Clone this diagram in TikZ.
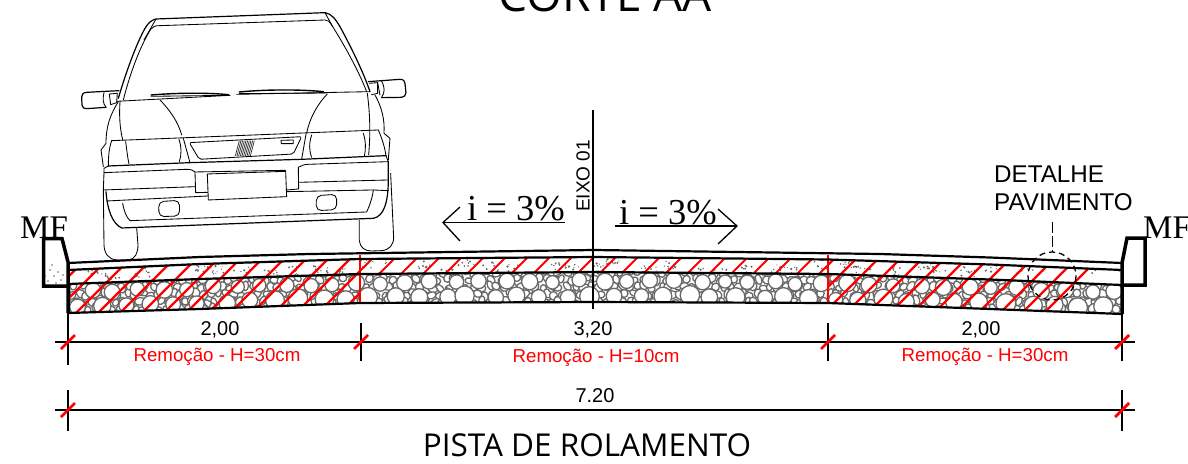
\documentclass[tikz,border=0pt]{standalone}
\usepackage{fontspec}
\setmainfont{Liberation Sans}
\newfontfamily\serifmf{Liberation Serif}
\newfontfamily\opensans{Open Sans}
\usetikzlibrary{calc}
\definecolor{stonegray}{RGB}{105,105,105}
\definecolor{rmred}{RGB}{255,0,0}
\tikzset{
  carline/.style={line width=0.85pt,line join=round,line cap=round},
  carthick/.style={line width=1.2pt,line join=round,line cap=round},
  layerline/.style={line width=2.2pt},
  curbline/.style={line width=3.5pt,line join=miter},
  hatchline/.style={rmred,line width=2.3pt},
  stone/.style={stonegray,line width=1.3pt,fill=white},
  dimline/.style={line width=1.2pt},
  redtick/.style={rmred,line width=2.8pt},
  thicktick/.style={line width=2.2pt},
  dimtext/.style={font=\fontsize{20}{21}\selectfont,inner sep=0pt},
  redtext/.style={font=\fontsize{18.7}{19}\selectfont,text=rmred,inner sep=0pt},
  bigserif/.style={font=\serifmf\fontsize{33}{34}\selectfont,inner sep=0pt},
  slopetext/.style={font=\serifmf\fontsize{36.5}{36}\selectfont,inner sep=0pt},
  opentitle/.style={font=\opensans\fontsize{31.5}{32}\selectfont,inner sep=0pt},
}
\def\roadtop{(68,263)--(200,257)--(310,254)--(594,250)--(880,254)--(990,257.5)--(1122,263)}
\def\roadsecond{(68,270)--(200,264)--(360,259)--(594,257)--(828,259.5)--(990,264.5)--(1122,270)}
\def\roadthird{(68,284)--(200,279)--(360,274)--(594,272)--(828,274)--(990,279.5)--(1122,285)}
\def\roadbottom{(68,313)--(200,309)--(360,303)--(594,302)--(828,303)--(990,309)--(1122,314)}
\begin{document}
\begin{tikzpicture}[x=1pt,y=-1pt]
\useasboundingbox (0,0) rectangle (1188,463);
\pgfmathsetseed{4242}
% ---------- stones
\begin{scope}
\clip (68,284)--(200,279)--(360,274)--(594,272)--(828,274)--(990,279.5)--(1122,285)--(1122,314)--(990,309)--(828,303)--(594,302)--(360,303)--(200,309)--(68,313)--cycle;
\foreach \r in {0,1,2,3,4,5}{
  \foreach \c in {0,...,140}{
    \pgfmathsetmacro{\px}{60+\c*7.8+mod(\r,2)*3.9+rand*2}
    \pgfmathsetmacro{\py}{272+\r*7.5+rand*2}
    \pgfmathsetmacro{\ra}{3.6+rnd*1.8}
    \pgfmathsetmacro{\rb}{2.8+rnd*1.4}
    \pgfmathsetmacro{\an}{rnd*180}
    \draw[stone,rotate around={\an:(\px,\py)}] (\px,\py) ellipse ({\ra} and {\rb});
  }
}
% two rows of larger stones following the camber
\foreach \c in {0,...,43}{
  \pgfmathsetmacro{\px}{66+\c*24.4+rand*3}
  \pgfmathsetmacro{\py}{272+((\px-594)/528)*((\px-594)/528)*12+9+rand*1.5}
  \pgfmathsetmacro{\ra}{6.5+rnd*2}
  \draw[stone] (\px,\py) circle ({\ra});
}
\foreach \c in {0,...,43}{
  \pgfmathsetmacro{\px}{78+\c*24.4+rand*4}
  \pgfmathsetmacro{\py}{272+((\px-594)/528)*((\px-594)/528)*12+24+rand*1.5}
  \pgfmathsetmacro{\ra}{7+rnd*3}
  \draw[stone] (\px,\py) circle ({\ra});
}
\end{scope}
% ---------- concrete specks
\begin{scope}
\clip (68,270)--(200,264)--(360,259)--(594,257)--(828,259.5)--(990,264.5)--(1122,270)--(1122,285)--(990,279.5)--(828,274)--(594,272)--(360,274)--(200,279)--(68,284)--cycle;
\foreach \c in {0,...,42}{
  \pgfmathsetmacro{\cx}{70+\c*25+rand*8}
  \pgfmathsetmacro{\cy}{268+rand*7}
  \foreach \k in {1,...,10}{
    \pgfmathsetmacro{\dx}{\cx+rand*8}
    \pgfmathsetmacro{\dy}{\cy+rand*5}
    \pgfmathsetmacro{\dr}{0.55+rnd*0.7}
    \fill[stonegray] (\dx,\dy) circle ({\dr});
  }
}
\end{scope}
% ---------- curb specks
\foreach \dx/\dy in {50/270,54/276,58/272,61/280,48/281,56/283,63/275,45/276,52/265}{
  \fill[stonegray] (\dx,\dy) circle (0.8);
}
% ---------- red hatching
\begin{scope}
\clip (68,270)--(200,264)--(360,259)--(360,303)--(200,309)--(68,313)--cycle;
\foreach \k in {-8,...,22}{
  \draw[hatchline] ({389+22*\k-330},330)--({389+22*\k-230},230);
}
\end{scope}
\begin{scope}
\clip (828,259.5)--(990,264.5)--(1122,270)--(1122,314)--(990,309)--(828,303)--cycle;
\foreach \k in {20,...,44}{
  \draw[hatchline] ({389+22*\k-330},330)--({389+22*\k-230},230);
}
\end{scope}
\begin{scope}
\clip (360,259)--(594,257)--(828,259.5)--(828,274)--(594,272)--(360,274)--cycle;
\foreach \k in {5,...,32}{
  \draw[hatchline,line width=1.9pt] ({389+22*\k-330},330)--({389+22*\k-230},230);
}
\end{scope}
\draw[hatchline] (360,255)--(360,304);
\draw[hatchline] (828,255)--(828,304);
% ---------- road lines
\draw[layerline] \roadtop;
\draw[layerline] \roadsecond;
\draw[layerline] \roadthird;
\draw[layerline] \roadbottom;
% ---------- curbs
\draw[curbline] (68,313)--(68,262)--(62,238.5)--(43.5,238.5)--(43.5,286)--(68,286);
\draw[curbline] (1122,314)--(1122,263)--(1127,238)--(1145,238)--(1145,285)--(1122,285);
% ---------- axis
\coordinate (axistop) at (593,110);
\coordinate (axisbot) at (593,309);
\draw[line width=1.4pt] (axistop)--(axisbot);
\node[rotate=90,font=\fontsize{19}{19}\selectfont,inner sep=0pt,anchor=center] (eixo) at (583,176) {EIXO 01};
% ---------- slopes
\node[slopetext,anchor=base west] (il) at (467,220) {i = 3\%};
\node[slopetext,anchor=base west] (ir) at (619,224) {i = 3\%};
\coordinate (ltip) at (443,222.5);
\coordinate (lend) at (565,222.5);
\coordinate (rtip) at (737,226);
\coordinate (rend) at (615,226);
\draw[line width=1.3pt] (lend)--(ltip);
\draw[line width=1.3pt] (460,207)--(ltip)--(460,241);
\draw[line width=1.3pt] (rend)--(rtip);
\draw[line width=1.3pt] (718,209)--(rtip)--(718,244);
% ---------- MF / titles
\node[bigserif,anchor=base west] (mfl) at (20,238) {MF};
\node[bigserif,anchor=base west] (mfr) at (1143,238) {MF};
\node[font=\opensans\fontsize{46}{48}\selectfont,inner sep=0pt,anchor=base] (corte) at (605,12) {CORTE AA};
\node[opentitle,anchor=base] (pista) at (587,456) {PISTA DE ROLAMENTO};
% ---------- detail
\node[font=\fontsize{24.2}{28}\selectfont,inner sep=0pt,anchor=base west] (det1) at (994,182) {DETALHE};
\node[font=\fontsize{24.2}{28}\selectfont,inner sep=0pt,anchor=base west] (det2) at (994,210) {PAVIMENTO};
\coordinate (detc) at (1052,276);
\draw[line width=1.3pt,dash pattern=on 6pt off 4pt] (detc) circle (24);
\coordinate (detup) at (1052,222);
\coordinate (detdn) at (1052,252);
\draw[line width=0.9pt,dash pattern=on 11pt off 3pt on 11pt off 3pt] (detup)--(detdn);
% ---------- dimensions
\coordinate (d1a) at (55,342);
\coordinate (d1b) at (1135,342);
\coordinate (d2a) at (55,410);
\coordinate (d2b) at (1135,410);
\draw[dimline] (d1a)--(d1b);
\draw[dimline] (d2a)--(d2b);
\draw[line width=1.2pt] (68,313)--(68,365);
\draw[line width=1.2pt] (361,323)--(361,361);
\draw[line width=1.2pt] (828,323)--(828,361);
\draw[line width=1.2pt] (1122,314)--(1122,361);
\draw[line width=1.2pt] (68,390)--(68,431);
\draw[line width=1.2pt] (1122,390)--(1122,431);
\foreach \tx/\ty in {68/342,361/342,828/342,1122/342,68/410,1122/410}{
  \draw[thicktick] (\tx-12,\ty)--(\tx+12,\ty);
  \draw[redtick] (\tx-7,\ty+7)--(\tx+7,\ty-7);
}
\node[dimtext,anchor=base] (t1) at (220,335) {2,00};
\node[dimtext,anchor=base] (t2) at (593,335) {3,20};
\node[dimtext,anchor=base] (t3) at (981,335) {2,00};
\node[dimtext,anchor=base] (t4) at (595,402) {7.20};
\node[redtext,anchor=base] (r1) at (217,361) {Remoção - H=30cm};
\node[redtext,anchor=base] (r2) at (596,362) {Remoção - H=10cm};
\node[redtext,anchor=base] (r3) at (985,361) {Remoção - H=30cm};
% ---------- car
\begin{scope}[xshift=80pt,x=0.3333pt,y=-0.3333pt]
% roof & windscreen
\draw[carthick] (115,295) .. controls (140,210) and (170,130) .. (195,85) .. controls (205,68) and (215,60) .. (228,57) -- (735,38) .. controls (755,42) and (765,55) .. (780,80) .. controls (810,135) and (850,215) .. (870,275);
\draw[carline] (130,300) .. controls (150,220) and (180,140) .. (212,88) .. controls (218,80) and (225,77) .. (238,77) -- (735,60) .. controls (745,60) and (750,66) .. (755,75) .. controls (790,130) and (835,210) .. (860,275);
\draw[carline] (228,57)--(192,120);
\draw[carline] (735,38)--(758,80);
\draw[carline] (110,304)--(450,286);
\draw[carline] (470,283)--(870,275);
% wipers
\draw[carthick,line width=1.4pt] (213,285) .. controls (300,278) and (380,278) .. (445,284);
\draw[carline] (213,289)--(450,286);
\draw[carthick,line width=1.4pt] (478,276) .. controls (560,268) and (660,268) .. (730,275);
\draw[carline] (478,281)--(740,279);
% mirrors
\draw[carthick] (117,272)--(20,277) .. controls (8,278) and (5,284) .. (5,292) -- (6,315) .. controls (7,323) and (12,327) .. (20,326) -- (78,322);
\draw[carline] (72,278) .. controls (68,295) and (68,310) .. (78,322);
\draw[carline] (88,282)--(112,280)--(110,308)--(92,314)--cycle;
\draw[carthick] (865,245)--(960,238) .. controls (970,238) and (975,243) .. (975,250) -- (978,278) .. controls (978,287) and (972,291) .. (965,292) -- (905,293);
\draw[carline] (905,243) .. controls (915,262) and (915,278) .. (905,292);
\draw[carline] (868,250)--(893,248)--(893,280)--(875,284);
\draw[carline] (893,248)--(900,285);
% body
\draw[carline] (115,305) .. controls (90,345) and (78,380) .. (78,430)--(63,450)--(70,500);
\draw[carline] (885,285) .. controls (905,320) and (915,360) .. (912,400)--(930,415)--(925,480);
\draw[carline] (120,305) .. controls (117,350) and (120,385) .. (128,420);
\draw[carline] (862,280) .. controls (870,340) and (872,400) .. (866,465);
\draw[carline] (240,300) .. controls (265,325) and (295,365) .. (305,405);
\draw[carline] (742,282) .. controls (715,310) and (690,350) .. (680,400);
% headlight band
\draw[carline] (95,422)--(895,390);
\draw[carline] (95,422) .. controls (87,445) and (85,470) .. (85,498);
\draw[carline] (895,390) .. controls (908,420) and (915,445) .. (918,467);
\draw[carthick] (85,498)--(330,488)--(665,478)--(918,467);
\draw[carline] (137,425) .. controls (140,445) and (142,470) .. (147,492);
\draw[carline] (297,418) .. controls (305,440) and (305,465) .. (298,485);
\draw[carline] (695,405) .. controls (687,430) and (687,450) .. (695,472);
\draw[carline] (850,400) .. controls (858,425) and (858,445) .. (853,468);
% grille
\draw[carline] (310,415)--(330,488);
\draw[carline] (678,403)--(665,478);
\draw[carline,rounded corners=2pt] (328,428)--(665,410)--(640,462)--(358,478)--cycle;
\foreach \bx in {0,...,9}{
  \draw[line width=0.75pt,black!80] ({478+\bx*5},422)--({466+\bx*5},468);
}
\draw[carline] (603,421)--(640,420)--(640,431)--(604,431)--cycle;
% bumper
\draw[carline] (85,498)--(72,505)--(72,518)--(320,508) .. controls (335,508) and (340,512) .. (345,516)--(617,511);
\draw[carline] (655,502) .. controls (665,497) and (672,493) .. (685,493)--(925,485)--(918,467);
\draw[carline] (345,516)--(347,578)--(383,577);
\draw[carline] (655,502)--(656,567)--(620,570);
\draw[carline] (382,522)--(617,514)--(620,590)--(385,600)--cycle;
\draw[carline] (72,518)--(70,570)--(347,560);
\draw[carline] (656,547)--(925,540);
\draw[carline] (80,603)--(385,588);
\draw[carline] (620,575)--(880,570)--(925,572);
\draw[carline] (128,610) .. controls (132,635) and (140,652) .. (150,662)--(860,636) .. controls (870,615) and (878,590) .. (880,570);
\draw[carthick] (78,575) .. controls (82,625) and (95,670) .. (125,684)--(880,655) .. controls (910,650) and (925,610) .. (925,540)--(925,485);
\draw[carline,rounded corners=5pt] (236,605)--(298,601)--(299,648)--(237,650)--cycle;
\draw[carline,rounded corners=5pt] (709,587)--(770,583)--(770,629)--(709,632)--cycle;
% wheels
\draw[carline] (70,570)--(72,735) .. controls (73,760) and (85,778) .. (110,780)--(145,780) .. controls (165,778) and (174,760) .. (174,735)--(170,683);
\draw[carline] (838,660)--(838,722) .. controls (840,742) and (855,754) .. (875,753)--(905,752) .. controls (928,750) and (941,735) .. (941,712)--(932,520);
\end{scope}
\end{tikzpicture}
\end{document}
